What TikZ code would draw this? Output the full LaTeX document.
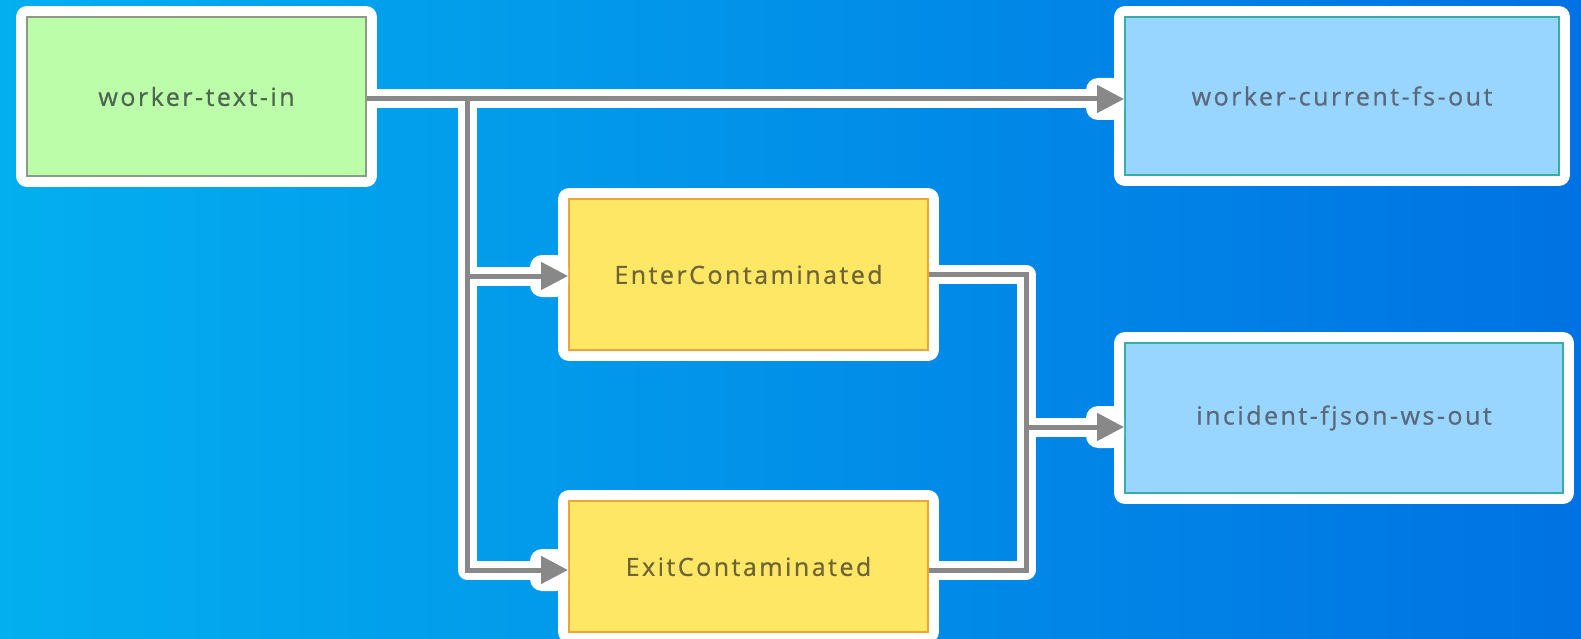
\documentclass[tikz,border=0pt]{standalone}
\usepackage{fontspec}
\setmainfont[LetterSpace=10,FakeBold=0.7]{Open Sans}
\usetikzlibrary{arrows.meta,calc}

\definecolor{bgLeft}{HTML}{03AFEF}
\definecolor{bgRight}{HTML}{0072E3}
\definecolor{wireGray}{HTML}{888888}
\definecolor{srcFill}{HTML}{BCFDAA}
\definecolor{srcLine}{HTML}{8C9A8A}
\definecolor{srcText}{HTML}{4E6650}
\definecolor{opFill}{HTML}{FFE766}
\definecolor{opLine}{HTML}{EFA533}
\definecolor{opText}{HTML}{6E6436}
\definecolor{sinkFill}{HTML}{99D6FF}
\definecolor{sinkLine}{HTML}{38ADA6}
\definecolor{sinkText}{HTML}{5A6878}

\tikzset{
  basebox/.style={rectangle, inner sep=0pt, line width=2pt, font=\fontsize{25}{28}\selectfont,
    preaction={draw=white, line width=22pt, line join=round}},
  srcbox/.style={basebox, draw=srcLine, fill=srcFill, text=srcText},
  opbox/.style={basebox, draw=opLine, fill=opFill, text=opText},
  sinkbox/.style={basebox, draw=sinkLine, fill=sinkFill, text=sinkText},
  wirehalo/.style={draw=white, line width=19pt, line join=round, shorten >=1.5pt},
  wire/.style={draw=wireGray, line width=5pt},
  wirearrow/.style={wire, -{Triangle[length=27pt,width=27pt]}},
  tipblob/.style={fill=white, rounded corners=12pt},
}

\begin{document}
\begin{tikzpicture}[x=1pt,y=-1pt]
  % background
  \shade[left color=bgLeft, right color=bgRight] (0,0) rectangle (1581,639);
  \useasboundingbox (0,0) rectangle (1581,639);

  % nodes
  \node[srcbox, minimum width=339pt, minimum height=159pt] (src) at (196.5,96.5) {worker-text-in};
  \node[sinkbox, minimum width=434pt, minimum height=158pt] (fsout) at (1342,96) {worker-current-fs-out};
  \node[opbox, minimum width=359pt, minimum height=151pt] (enter) at (748.5,274.5) {EnterContaminated};
  \node[opbox, minimum width=359pt, minimum height=131pt] (exit) at (748.5,566.5) {ExitContaminated};
  \node[sinkbox, minimum width=438pt, minimum height=150pt] (wsout) at (1344,418) {incident-fjson-ws-out};

  % junctions
  \coordinate (split) at (467,99);
  \coordinate (merge) at (1026,427);

  % white outlines of the connectors
  \draw[wirehalo] ([yshift=-2.5pt]src.east) -- ([yshift=-3pt]fsout.west);
  \draw[wirehalo] (split) |- ([yshift=-1.5pt]enter.west);
  \draw[wirehalo] (split) |- ([yshift=-3.5pt]exit.west);
  \draw[wirehalo] (enter.east) -| (merge) -- ([yshift=-9pt]wsout.west);
  \draw[wirehalo] ([yshift=-3.5pt]exit.east) -| (merge);

  % white pads under the arrow heads
  \foreach \tgt/\dy in {fsout/-3, enter/-1.5, exit/-3.5, wsout/-9}{
    \fill[tipblob] ($([yshift=\dy pt]\tgt.west)+(-38,-21)$) rectangle ($([yshift=\dy pt]\tgt.west)+(0,21)$);
  }

  % connectors
  \draw[wirearrow] ([yshift=-2.5pt]src.east) -- ([yshift=-3pt]fsout.west);
  \draw[wirearrow] (split) |- ([yshift=-1.5pt]enter.west);
  \draw[wirearrow] (split) |- ([yshift=-3.5pt]exit.west);
  \draw[wirearrow] (enter.east) -| (merge) -- ([yshift=-9pt]wsout.west);
  \draw[wire] ([yshift=-3.5pt]exit.east) -| (merge);
\end{tikzpicture}
\end{document}
